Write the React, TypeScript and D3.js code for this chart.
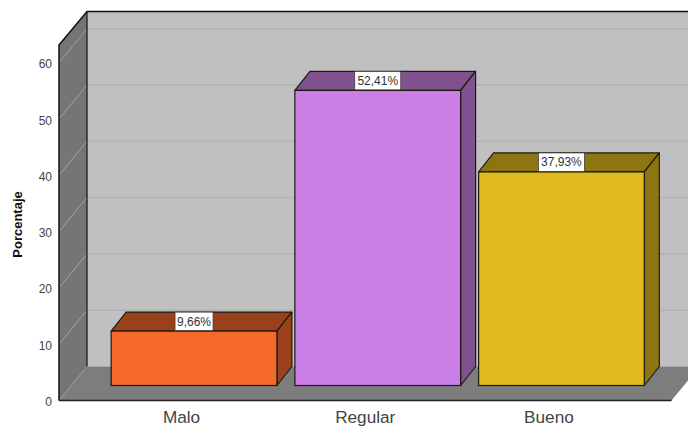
import React from "react";
import * as d3 from "d3";

const categories = ["Malo", "Regular", "Bueno"];
const values = [9.66, 52.41, 37.93];
const labels = ["9,66%", "52,41%", "37,93%"];
const labelWidths = [38, 46, 46];
const fronts = ["#f5682a", "#cb7fe6", "#e1bb1d"];
const darks = ["#9a4119", "#80508f", "#8d7512"];
const ticks = [0, 10, 20, 30, 40, 50, 60];

const W = 688, H = 433;
const X0 = 59, Y0 = 400.5, DX = 28, DY = 34;
const y = d3.scaleLinear().domain([0, 60]).range([Y0, 62.7]);
const x = d3.scaleBand<string>().domain(categories).range([102, 653.5]).paddingInner(0.098).paddingOuter(0.05);
const BDX = 15, BDY = 19, BASE = 15;
const pts = (p: number[][]) => p.map(q => q.join(",")).join(" ");
const F = "'Liberation Sans', Arial, sans-serif";

export default function App() {
  const top = 11.5, right = 720, frontRight = 671.5;
  return (
    <svg width={W} height={H} style={{ position: "absolute", left: 0, top: 0 }} fontFamily={F}>
      <rect width={W} height={H} fill="#fff" />
      <polygon points={pts([[X0 + DX, top], [right, top], [right, Y0 - DY], [X0 + DX, Y0 - DY]])} fill="#c0c0c0" />
      <polygon points={pts([[X0, 45], [X0 + DX, top], [X0 + DX, Y0 - DY], [X0, Y0]])} fill="#757575" />
      <polygon points={pts([[X0, Y0], [X0 + DX, Y0 - DY], [frontRight + DX, Y0 - DY], [frontRight, Y0]])} fill="#7d7d7d" />
      <line x1={X0 + DX} x2={W} y1={Y0 - DY} y2={Y0 - DY} stroke="#a8a8a8" strokeWidth={1} />
      {ticks.map(t => (
        <g key={t}>
          {t > 0 && <line x1={X0 + DX} x2={W} y1={y(t) - DY} y2={y(t) - DY} stroke="#b2b2b2" strokeWidth={1.5} />}
          <line x1={X0} y1={y(t)} x2={X0 + DX} y2={y(t) - DY} stroke={t === 0 ? "#9a9a9a" : "#a3a3a3"} strokeWidth={1} />
          <text x={52} y={y(t) + 5.5} textAnchor="end" fontSize={12} fill="#444">{t}</text>
        </g>
      ))}
      <polyline points={pts([[X0, Y0], [X0, 45], [X0 + DX, top], [W, top]])} fill="none" stroke="#111" strokeWidth={1.5} />
      <line x1={X0 + DX} x2={X0 + DX} y1={top} y2={Y0 - DY} stroke="#111" strokeWidth={1.2} />
      <line x1={X0} x2={frontRight} y1={Y0} y2={Y0} stroke="#222" strokeWidth={1.5} />
      {categories.map((c, i) => {
        const x0 = x(c)!;
        const x1 = x0 + x.bandwidth();
        const yb = Y0 - BASE;
        const yt = y(values[i]) - BASE;
        const cx = (x0 + x1) / 2;
        return (
          <g key={c}>
            <polygon points={pts([[x0, yt], [x0 + BDX, yt - BDY], [x1 + BDX, yt - BDY], [x1, yt]])} fill={darks[i]} stroke="#1c1c10" strokeWidth={1.2} strokeLinejoin="round" />
            <polygon points={pts([[x1, yt], [x1 + BDX, yt - BDY], [x1 + BDX, yb - BDY], [x1, yb]])} fill={darks[i]} stroke="#1c1c10" strokeWidth={1.2} strokeLinejoin="round" />
            <rect x={x0} y={yt} width={x1 - x0} height={yb - yt} fill={fronts[i]} stroke="#1c1c10" strokeWidth={1.2} />
            <rect x={cx - labelWidths[i] / 2} y={yt - 19} width={labelWidths[i]} height={18.4} fill="#fff" stroke="#333" strokeWidth={0.7} />
            <text x={cx} y={yt - 5.5} textAnchor="middle" fontSize={12} fill="#333">{labels[i]}</text>
            <text x={cx - 12.5} y={423} textAnchor="middle" fontSize={17.2} fill="#444">{c}</text>
          </g>
        );
      })}
      <text transform="translate(22,224.5) rotate(-90)" textAnchor="middle" fontSize={13} fontWeight="bold" fill="#111">Porcentaje</text>
    </svg>
  );
}
